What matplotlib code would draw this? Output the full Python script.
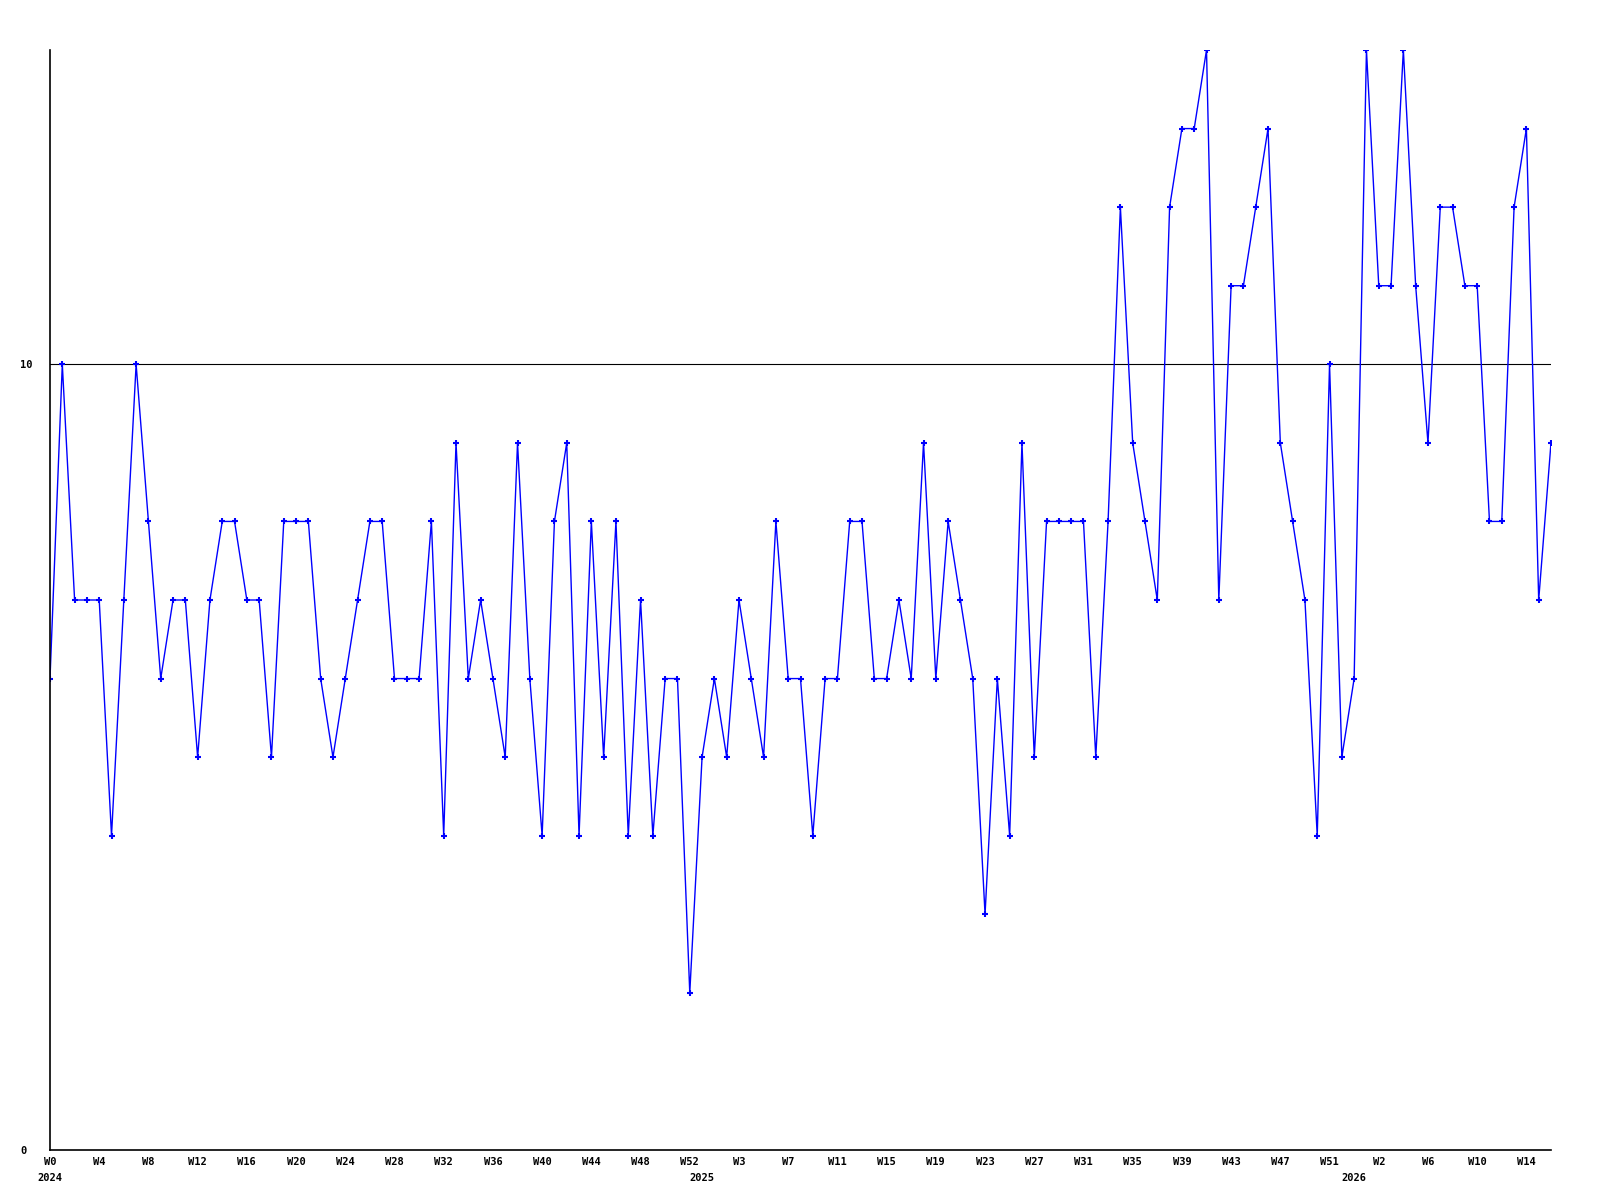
import matplotlib
matplotlib.use("Agg")
import matplotlib.pyplot as plt

# weekly counts, one point per week (2024 W0 .. 2026 W16)
years = [2024, 2025, 2026]
weeks_per_year = [53, 53, 17]

values = [
    6, 10, 7, 7, 7, 4, 7, 10, 8, 6, 7, 7, 5, 7, 8, 8, 7, 7, 5, 8,
    8, 8, 6, 5, 6, 7, 8, 8, 6, 6, 6, 8, 4, 9, 6, 7, 6, 5, 9, 6,
    4, 8, 9, 4, 8, 5, 8, 4, 7, 4, 6, 6, 2, 5, 6, 5, 7, 6, 5, 8,
    6, 6, 4, 6, 6, 8, 8, 6, 6, 7, 6, 9, 6, 8, 7, 6, 3, 6, 4, 9,
    5, 8, 8, 8, 8, 5, 8, 12, 9, 8, 7, 12, 13, 13, 14, 7, 11, 11, 12, 13,
    9, 8, 7, 4, 10, 5, 6, 14, 11, 11, 14, 11, 9, 12, 12, 11, 11, 8, 8, 12,
    13, 7, 9,
]

# build the week labels for each point
week_labels = []
year_starts = []
for yr, n in zip(years, weeks_per_year):
    year_starts.append(len(week_labels))
    week_labels += ["W%d" % w for w in range(n)]

x = list(range(len(values)))

fig = plt.figure(figsize=(16, 12), dpi=100)
ax = fig.add_axes([50 / 1600, 50 / 1200, 1501 / 1600, 1100 / 1200])

ax.plot(x, values, color="#0000ff", lw=1.0, marker="+", ms=4.5, mew=1.5)
ax.axhline(10, color="black", lw=0.8, zorder=0)

ax.set_xlim(0, len(values) - 1)
ax.set_ylim(0, 14)

for s in ["top", "right"]:
    ax.spines[s].set_visible(False)
for s in ["left", "bottom"]:
    ax.spines[s].set_linewidth(1.2)
    ax.spines[s].set_color("black")

font = dict(family="DejaVu Sans Mono", weight="bold", size=7.5)

# week ticks every 4 points, year under first week of each year
ticks = x[::4]
ax.xaxis.remove_overlapping_locs = False
ax.set_xticks(ticks)
ax.set_xticklabels([week_labels[i] for i in ticks], **font)
ax.set_xticks(year_starts, minor=True)
ax.set_xticklabels([str(y) for y in years], minor=True, **font)
ax.tick_params(axis="x", which="major", length=0, pad=5)
ax.tick_params(axis="x", which="minor", length=0, pad=16.5)

ax.set_yticks([0, 10])
ax.set_yticklabels(["0", "10"], ha="left", **font)
ax.tick_params(axis="y", length=0, pad=21.6)

fig.savefig("out.png", dpi=100, facecolor="white")
